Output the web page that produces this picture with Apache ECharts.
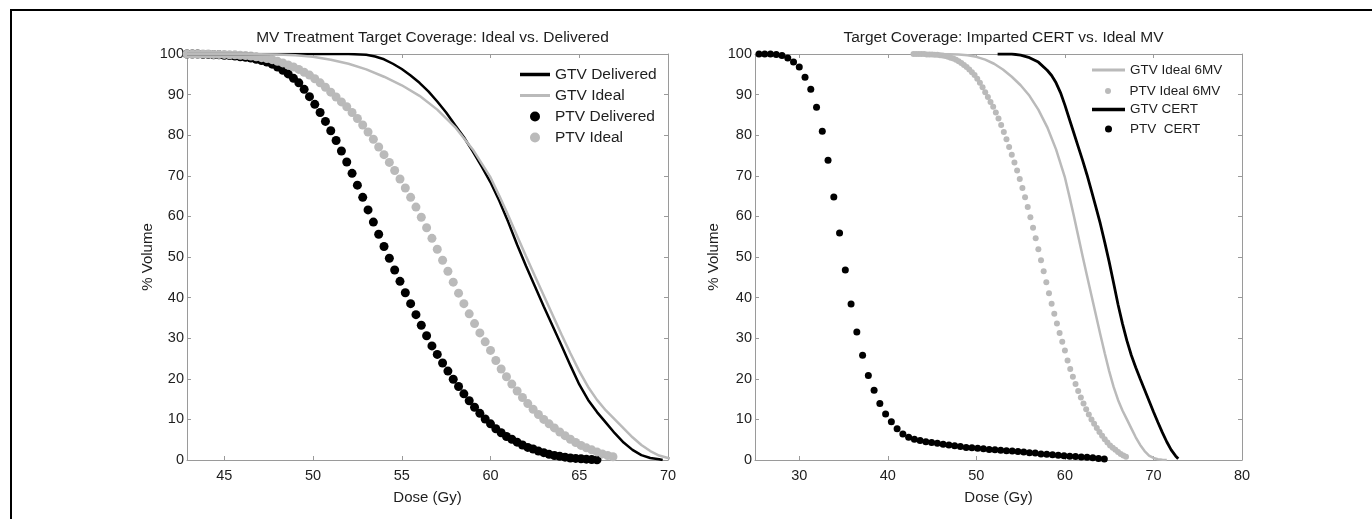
<!DOCTYPE html>
<html><head><meta charset="utf-8">
<script src="https://cdn.jsdelivr.net/npm/echarts@6/dist/echarts.min.js"></script>
<style>html,body{margin:0;padding:0;background:#fff}#c{width:1372px;height:519px}</style>
</head><body><div id="c"></div>
<script>
// ---------- DATA ----------
const leftDoseTicks = [45, 50, 55, 60, 65, 70];
const rightDoseTicks = [30, 40, 50, 60, 70, 80];
const volumeTicks = [0, 10, 20, 30, 40, 50, 60, 70, 80, 90, 100];

// dose grid of the PTV dot series (Gy)
const ptvDose = [42.9,43.2,43.5,43.8,44.1,44.4,44.7,45.0,45.3,45.6,45.9,46.2,46.5,46.8,47.1,47.4,47.7,48.0,48.3,48.6,
  48.9,49.2,49.5,49.8,50.1,50.4,50.7,51.0,51.3,51.6,51.9,52.2,52.5,52.8,53.1,53.4,53.7,54.0,54.3,54.6,
  54.9,55.2,55.5,55.8,56.1,56.4,56.7,57.0,57.3,57.6,57.9,58.2,58.5,58.8,59.1,59.4,59.7,60.0,60.3,60.6,
  60.9,61.2,61.5,61.8,62.1,62.4,62.7,63.0,63.3,63.6,63.9,64.2,64.5,64.8,65.1,65.4,65.7,66.0,66.3,66.6,66.9];

const ptvDelivered = [100,100,100,99.9,99.9,99.8,99.8,99.7,99.6,99.5,
  99.3,99.2,99.0,98.7,98.4,98.0,97.5,96.8,96.0,95.1,
  94.0,92.9,91.3,89.5,87.6,85.6,83.4,81.1,78.7,76.1,
  73.4,70.6,67.7,64.7,61.6,58.6,55.6,52.6,49.7,46.8,
  44.0,41.2,38.5,35.8,33.2,30.6,28.1,26.0,23.9,21.9,
  19.9,18.1,16.3,14.6,13.0,11.5,10.1,8.9,7.7,6.7,
  5.8,5.1,4.4,3.7,3.1,2.7,2.2,1.8,1.4,1.1,
  0.9,0.7,0.5,0.4,0.3,0.2,0.1,0.05];

const ptvIdeal = [100,100,100,100,100,99.9,99.9,99.9,99.8,99.8,
  99.7,99.6,99.5,99.3,99.1,98.9,98.6,98.2,97.8,97.3,
  96.8,96.2,95.5,94.8,93.9,92.9,91.8,90.6,89.4,88.2,
  87.0,85.6,84.1,82.5,80.8,79.0,77.1,75.2,73.3,71.3,
  69.2,67.0,64.7,62.3,59.8,57.2,54.6,51.9,49.2,46.5,
  43.8,41.1,38.5,36.0,33.6,31.3,29.1,27.0,24.5,22.4,
  20.5,18.7,17.0,15.4,13.9,12.5,11.2,10.0,8.9,7.9,
  6.9,6.0,5.1,4.3,3.6,3.0,2.5,2.0,1.5,1.1,0.8];

const gtvDeliveredDose = [42.9,50,52,53,53.5,54,54.5,55,55.5,56,56.5,57,57.5,58,58.5,59,59.5,60,60.5,61,
  61.5,62,62.5,63,63.5,64,64.5,65,65.5,66,66.5,67,67.5,68,68.5,69,69.5,69.7];
const gtvDelivered = [100,100,100,99.8,99.4,98.7,97.6,96.3,94.7,92.9,90.8,88.3,85.6,82.5,79.5,76.0,72.3,68.4,63.8,58.6,
  53.0,47.8,42.8,37.8,33.0,28.2,23.3,18.6,14.8,11.8,9.2,6.6,4.3,2.5,1.2,0.5,0.2,0];

const gtvIdealDose = [42.9,46,48,49,50,51,52,53,54,55,56,57,58,59,60,60.5,61,61.5,62,62.5,
  63,63.5,64,64.5,65,65.5,66,66.5,67,67.5,68,68.5,69,69.5,70,70.5,71,71.5];
const gtvIdeal = [100,100,99.9,99.7,99.3,98.6,97.6,96.2,94.4,92.3,89.7,86.3,82.0,76.5,69.6,65.0,60.2,55.2,50.2,45.3,
  40.5,35.7,30.9,26.3,21.9,18.0,14.8,12.2,10.0,7.8,5.6,3.7,2.2,1.1,0.5,0.2,0.08,0];

const certDose = [25.45,26.10,26.75,27.40,28.05,28.70,29.35,30.00,30.65,31.30,31.95,32.60,33.25,33.90,34.55,35.20,
  35.85,36.50,37.15,37.80,38.45,39.10,39.75,40.40,41.05,41.70,42.35,43.00,43.65,44.30,44.95,45.60,
  46.25,46.90,47.55,48.20,48.85,49.50,50.15,50.80,51.45,52.10,52.75,53.40,54.05,54.70,55.35,56.00,
  56.65,57.30,57.95,58.60,59.25,59.90,60.55,61.20,61.85,62.50,63.15,63.80,64.45];
const ptvCert = [100,100,100,99.9,99.6,99.0,98.0,96.8,94.3,91.3,86.9,81.0,73.8,64.8,55.9,46.8,
  38.4,31.5,25.8,20.8,17.2,13.9,11.3,9.4,7.7,6.4,5.6,5.1,4.8,4.5,4.3,4.1,
  3.9,3.7,3.5,3.3,3.1,3.0,2.9,2.8,2.6,2.5,2.4,2.3,2.2,2.1,2.0,1.8,
  1.7,1.5,1.4,1.3,1.2,1.05,0.95,0.85,0.75,0.68,0.55,0.4,0.25];

const gtvCertDose = [52.4,54,55,56,57,58,58.5,59,59.5,60,60.5,61,61.5,62,62.5,63,63.5,64,64.5,65,
  65.5,66,66.5,67,67.5,68,68.5,69,69.5,70,70.5,71,71.5,72,72.5,72.8];
const gtvCert = [100,100,99.7,99.1,98.0,96.0,94.7,92.9,90.5,87.4,84.0,80.6,77.2,73.8,70.2,66.3,62.3,58.2,53.6,48.8,
  43.6,38.3,33.6,29.4,25.8,22.8,20.0,17.3,14.6,11.9,9.3,6.8,4.5,2.5,1.0,0.3];

// ---------- CHART ----------
const FONT = '"Liberation Sans", Arial, Helvetica, sans-serif';
const AXIS = '#9a9a9a';
const TEXT = '#1e1e1e';
const GRAY = '#bababa';

function pairs(xs, ys) {
  const n = Math.min(xs.length, ys.length), out = [];
  for (let i = 0; i < n; i++) out.push([xs[i], ys[i]]);
  return out;
}

function xAxes(gi, min, max, ticks) {
  const common = {
    type: 'value', gridIndex: gi, min: min, max: max,
    splitLine: { show: false },
    axisLine: { show: true, onZero: false, lineStyle: { color: AXIS, width: 1 } },
    axisTick: { show: true, inside: true, length: 4, customValues: ticks, lineStyle: { color: AXIS } }
  };
  return [
    Object.assign({}, common, {
      position: 'bottom', name: 'Dose (Gy)', nameLocation: 'middle', nameGap: 30,
      nameTextStyle: { fontSize: 15, color: TEXT, fontFamily: FONT },
      axisLabel: { show: true, customValues: ticks, margin: 8, fontSize: 14.5, color: TEXT, fontFamily: FONT }
    }),
    Object.assign({}, common, { position: 'top', axisLabel: { show: false } })
  ];
}
function yAxes(gi, gap) {
  const common = {
    type: 'value', gridIndex: gi, min: 0, max: 100,
    splitLine: { show: false },
    axisLine: { show: true, onZero: false, lineStyle: { color: AXIS, width: 1 } },
    axisTick: { show: true, inside: true, length: 4, customValues: volumeTicks, lineStyle: { color: AXIS } }
  };
  return [
    Object.assign({}, common, {
      position: 'left', name: '% Volume', nameLocation: 'middle', nameGap: gap, nameRotate: 90,
      nameTextStyle: { fontSize: 15, color: TEXT, fontFamily: FONT },
      axisLabel: { show: true, customValues: volumeTicks, margin: 3, fontSize: 14.5, color: TEXT, fontFamily: FONT }
    }),
    Object.assign({}, common, { position: 'right', axisLabel: { show: false } })
  ];
}

// one legend component per row so each row can sit where the reference has it
function legendLine(name, left, cy, w, thick, fs) {
  return {
    data: [{ name: name, icon: 'rect' }], left: left, top: cy - 7, orient: 'vertical',
    itemWidth: w, itemHeight: thick, padding: 0, itemGap: 0, selectedMode: false,
    textStyle: { fontSize: fs, color: TEXT, fontFamily: FONT }
  };
}
function legendDot(name, left, cy, w, size, fs) {
  return {
    data: [{ name: name, icon: 'circle' }], left: left, top: cy - 7, orient: 'vertical',
    itemWidth: w, itemHeight: size, padding: 0, itemGap: 0, selectedMode: false,
    textStyle: { fontSize: fs, color: TEXT, fontFamily: FONT }
  };
}

const chart = echarts.init(document.getElementById('c'), null, { renderer: 'canvas' });
chart.setOption({
  animation: false,
  backgroundColor: '#fff',
  graphic: [{
    type: 'rect', shape: { x: 11, y: 10, width: 1500, height: 600 },
    style: { fill: 'none', stroke: '#000', lineWidth: 2 }, silent: true
  }],
  title: [
    { text: 'MV Treatment Target Coverage: Ideal vs. Delivered', left: 427.5, top: 25, textAlign: 'center',
      textStyle: { fontSize: 15.5, fontWeight: 'normal', color: TEXT, fontFamily: FONT } },
    { text: 'Target Coverage: Imparted CERT vs. Ideal MV', left: 998.5, top: 25, textAlign: 'center',
      textStyle: { fontSize: 15.5, fontWeight: 'normal', color: TEXT, fontFamily: FONT } }
  ],
  grid: [
    { left: 187, top: 54, width: 481, height: 406 },
    { left: 755, top: 54, width: 487, height: 406 }
  ],
  xAxis: xAxes(0, 42.9, 70, leftDoseTicks).concat(xAxes(1, 25, 80, rightDoseTicks)),
  yAxis: yAxes(0, 32).concat(yAxes(1, 34)),
  legend: [
    legendLine('GTV Delivered', 520, 73.5, 30, 3.5, 15.5),
    legendLine('GTV Ideal', 520, 94.5, 30, 3, 15.5),
    legendDot('PTV Delivered', 530, 115.5, 30, 10, 15.5),
    legendDot('PTV Ideal', 530, 136.5, 30, 10, 15.5),
    legendLine('GTV Ideal 6MV', 1092, 70, 33, 3, 13.5),
    legendDot('PTV Ideal 6MV', 1105, 91, 33, 6, 13.5),
    legendLine('GTV CERT', 1092, 109.5, 33, 3.5, 13.5),
    legendDot('PTV  CERT', 1105, 129, 33, 7, 13.5)
  ],
  series: [
    { name: 'GTV Delivered', type: 'line', xAxisIndex: 0, yAxisIndex: 0, symbol: 'none', showSymbol: false,
      data: pairs(gtvDeliveredDose, gtvDelivered), lineStyle: { color: '#000', width: 2.5 }, itemStyle: { color: '#000' } },
    { name: 'GTV Ideal', type: 'line', xAxisIndex: 0, yAxisIndex: 0, symbol: 'none', showSymbol: false,
      data: pairs(gtvIdealDose, gtvIdeal), lineStyle: { color: GRAY, width: 2.5 }, itemStyle: { color: GRAY } },
    { name: 'PTV Delivered', type: 'scatter', xAxisIndex: 0, yAxisIndex: 0, symbol: 'circle', symbolSize: 9,
      data: pairs(ptvDose, ptvDelivered), itemStyle: { color: '#000', opacity: 1 } },
    { name: 'PTV Ideal', type: 'scatter', xAxisIndex: 0, yAxisIndex: 0, symbol: 'circle', symbolSize: 9,
      data: pairs(ptvDose, ptvIdeal), itemStyle: { color: GRAY, opacity: 1 } },

    { name: 'GTV Ideal 6MV', type: 'line', xAxisIndex: 2, yAxisIndex: 2, symbol: 'none', showSymbol: false,
      data: pairs(gtvIdealDose, gtvIdeal), lineStyle: { color: GRAY, width: 2.5 }, itemStyle: { color: GRAY } },
    { name: 'PTV Ideal 6MV', type: 'scatter', xAxisIndex: 2, yAxisIndex: 2, symbol: 'circle', symbolSize: 6,
      data: pairs(ptvDose, ptvIdeal), itemStyle: { color: GRAY, opacity: 1 } },
    { name: 'GTV CERT', type: 'line', xAxisIndex: 2, yAxisIndex: 2, symbol: 'none', showSymbol: false,
      data: pairs(gtvCertDose, gtvCert), lineStyle: { color: '#000', width: 2.8 }, itemStyle: { color: '#000' } },
    { name: 'PTV  CERT', type: 'scatter', xAxisIndex: 2, yAxisIndex: 2, symbol: 'circle', symbolSize: 7,
      data: pairs(certDose, ptvCert), itemStyle: { color: '#000', opacity: 1 } }
  ]
});
</script></body></html>
